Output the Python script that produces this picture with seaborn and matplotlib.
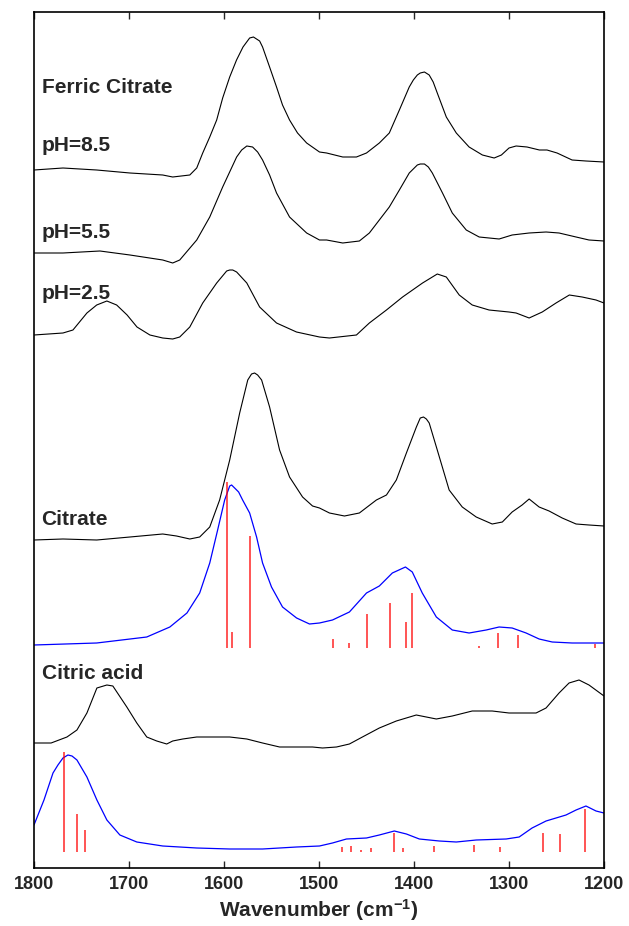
import matplotlib
matplotlib.use("Agg")
import matplotlib.pyplot as plt
import seaborn as sns
import pandas as pd

# ---- measured spectra (wavenumber in cm^-1, intensity in arbitrary units) ----
ph85_wn = [1800, 1769.5, 1734, 1699, 1664.5, 1654, 1636, 1628.7, 1622.4, 1615, 1607.7, 1601.4, 1594,
           1586.8, 1580, 1573, 1569, 1562.5, 1559.4, 1552, 1544.7, 1538.4, 1531, 1522.6, 1513,
           1499.5, 1492, 1475, 1460.6, 1450, 1436.5, 1426, 1415.4, 1405, 1400.7, 1396.5, 1393.4,
           1389, 1384, 1379.8, 1375.5, 1366, 1355.5, 1342, 1328, 1315.6, 1308, 1300, 1292.5, 1281,
           1268, 1260, 1249.4, 1233.6, 1219, 1200]
ph85_int = [0, 2, 0, -3, -5, -7, -5, 2, 17, 33, 50, 72, 93,
            110, 123, 132, 133, 129, 123, 103, 83, 65, 50, 37, 27,
            18, 17, 13, 13, 17, 27, 37, 60, 83, 90, 95, 97,
            98, 95, 88, 77, 53, 37, 23, 15, 12, 15, 22, 24, 23,
            20, 20, 17, 10, 9, 8]

ph55_wn = [1800, 1769.5, 1730.6, 1699, 1664.5, 1654, 1646.6, 1628.7, 1615, 1601.4, 1586.7, 1581.4,
           1576, 1569.9, 1564.6, 1559.4, 1552, 1544.7, 1531, 1513, 1499.5, 1492, 1475, 1457.5, 1447,
           1436.5, 1426, 1415.4, 1405, 1396.5, 1393.4, 1389, 1384.9, 1380.7, 1370, 1359.7, 1345,
           1331.4, 1310.4, 1296.7, 1278.8, 1261, 1247.3, 1229.4, 1215.8, 1200]
ph55_int = [0, 0, 2, -2, -7, -10, -7, 13, 36, 66, 96, 103,
            107, 106, 101, 93, 78, 60, 36, 20, 13, 13, 10, 12, 20,
            33, 46, 63, 80, 88, 89, 89, 86, 80, 60, 40, 23,
            16, 14, 18, 20, 21, 20, 16, 13, 12]

ph25_wn = [1800, 1769.5, 1759, 1744.3, 1734, 1723.3, 1713, 1702, 1691.6, 1678, 1664.5, 1654, 1646.6,
           1636, 1622.4, 1607.7, 1597.2, 1594, 1590.8, 1586.7, 1576, 1562.5, 1544.7, 1523.7, 1499.5,
           1489, 1460.6, 1447, 1429, 1412, 1391, 1375.5, 1366, 1352.4, 1338.7, 1321, 1300, 1292.5,
           1278.8, 1265, 1250.5, 1236.5, 1223, 1208.4, 1200]
ph25_int = [0, 2, 5, 22, 30, 34, 30, 20, 8, 0, -3, -4, -2,
            8, 32, 52, 64, 65, 65, 63, 52, 28, 12, 3, -2,
            -3, 0, 12, 25, 38, 52, 61, 58, 40, 30, 25, 23, 22,
            17, 23, 32, 40, 38, 35, 32]

citrate_wn = [1800, 1769.5, 1734, 1699, 1664.5, 1650, 1636, 1625.6, 1615, 1604.6, 1594, 1583.5, 1575,
              1571, 1567.8, 1564.6, 1560.4, 1552, 1541.5, 1531, 1517.3, 1506.8, 1499.5, 1489, 1473.2,
              1457.5, 1439.6, 1429, 1418.6, 1408, 1397.5, 1393.4, 1390, 1387, 1384, 1375.5, 1363,
              1349.2, 1334.5, 1317.7, 1307, 1296.7, 1286.2, 1278.8, 1268.3, 1257.8, 1244, 1229.4,
              1215.8, 1200]
citrate_int = [0, 1, 0, 3, 6, 4, 1, 3, 13, 40, 80, 127, 160,
               166, 167, 165, 160, 133, 90, 63, 43, 34, 32, 27, 24,
               27, 40, 45, 60, 87, 113, 122, 123, 121, 117, 90, 50,
               33, 23, 16, 18, 28, 35, 41, 33, 29, 22, 16,
               15, 14]

# ---- computed spectra and their vibrational lines ----
citrate_calc_wn = [1800, 1734, 1681.3, 1657, 1639, 1625.6, 1615, 1606.7, 1599.3, 1594, 1592, 1588.8,
                   1584.6, 1580.4, 1573, 1565.7, 1559.4, 1550, 1538.4, 1523.6, 1510, 1499.5, 1485.8,
                   1468, 1450, 1436.5, 1422.8, 1409, 1401.8, 1391.3, 1376.5, 1359.7, 1342, 1324,
                   1310.4, 1296.7, 1282, 1268.3, 1254.5, 1233.6, 1212.6, 1200]
citrate_calc_int = [0, 2, 8, 18, 32, 52, 82, 115, 145, 159, 160, 157,
                    153, 145, 132, 108, 82, 58, 38, 27, 21, 22, 25,
                    33, 52, 59, 72, 78, 73, 52, 28, 15, 12, 15,
                    18, 17, 12, 6, 3, 2, 2, 2]
citrate_line_wn = [1597.2, 1591.6, 1573, 1485.5, 1468, 1449.8, 1425.2, 1408, 1402.5, 1331.7,
                   1311.7, 1290.7, 1209]
citrate_line_int = [166, 16, 112, 8.7, 5, 34, 45, 26, 55, 2.4, 15.4, 12.7, 3.7]

citric_wn = [1800, 1782, 1765.3, 1754.8, 1744.3, 1733.8, 1723.3, 1717, 1702.3, 1691.8, 1681.3,
             1670.8, 1660.3, 1654, 1643.4, 1628.7, 1612, 1594, 1576, 1559.4, 1541.5, 1523.6,
             1506.8, 1496.3, 1481.6, 1468, 1454.3, 1436.5, 1418.6, 1397.6, 1376.5, 1359.7,
             1338.7, 1317.7, 1300, 1271.5, 1261, 1247.3, 1236.8, 1226.3, 1215.8, 1200]
citric_int = [0, 0, 6, 13, 30, 55, 58, 57, 36, 20, 6,
              2, -1, 2, 4, 6, 6, 6, 4, 0, -4, -4,
              -4, -5, -4, -1, 6, 15, 22, 28, 24, 27,
              32, 32, 30, 30, 35, 50, 60, 63, 58, 47]

citric_calc_wn = [1800, 1789.5, 1780, 1774.8, 1769.5, 1764.3, 1760, 1754.8, 1744.3, 1733.8, 1723.3,
                  1709.6, 1691.8, 1664.5, 1628.7, 1594, 1559.4, 1523.6, 1499.5, 1485.8, 1471.1, 1450,
                  1436.5, 1420.7, 1408, 1394.4, 1373.4, 1355.5, 1334.5, 1303, 1289.3, 1275.7,
                  1261, 1240, 1229.4, 1219, 1208.4, 1200]
citric_calc_int = [24, 49, 76, 84, 91, 94, 93, 89, 72, 49, 29,
                   14, 7, 3, 1, 0, 0, 2, 3, 6, 10, 11,
                   14, 18, 15, 10, 8, 7, 9, 10, 12, 21,
                   28, 34, 39, 43, 38, 36]
citric_line_wn = [1768.8, 1754.5, 1746.7, 1475.6, 1465.9, 1455.7, 1445.2, 1420.7, 1411.5,
                  1378.6, 1336.9, 1310, 1264.4, 1245.9, 1220.3]
citric_line_int = [100, 38.4, 22.4, 5, 6.4, 1.7, 4.4, 19.4, 4, 5.7, 6.7, 4.7, 19.4, 17.7, 42.7]

x_ticks = [1800, 1700, 1600, 1500, 1400, 1300, 1200]

# ---- styling ----
sns.set_style("ticks")
plt.rcParams["font.family"] = ["Liberation Sans", "DejaVu Sans"]
plt.rcParams["font.weight"] = "bold"
plt.rcParams["mathtext.fontset"] = "custom"
plt.rcParams["mathtext.rm"] = "Liberation Sans:bold"
plt.rcParams["mathtext.default"] = "rm"

fig = plt.figure(figsize=(6.29, 9.26), dpi=100)
ax = fig.add_axes([34 / 629, 58 / 926, 570 / 629, 856 / 926])

# vertical offsets of the stacked traces
traces = [
    (ph85_wn, ph85_int, 698, "black", 0.8),
    (ph55_wn, ph55_int, 615, "black", 0.8),
    (ph25_wn, ph25_int, 533, "black", 0.8),
    (citrate_wn, citrate_int, 328, "black", 0.8),
    (citrate_calc_wn, citrate_calc_int, 223, "#0000ff", 0.9),
    (citric_wn, citric_int, 125, "black", 0.8),
    (citric_calc_wn, citric_calc_int, 19, "#0000ff", 0.9),
]
for wn, inten, off, col, lw in traces:
    df = pd.DataFrame({"wn": wn, "y": [v + off for v in inten]})
    sns.lineplot(data=df, x="wn", y="y", color=col, lw=lw, ax=ax, sort=True,
                 estimator=None, legend=False)
for ln in ax.get_lines():
    ln.set_solid_joinstyle("round")

# computed line positions as sticks
for wn, inten, base in [(citrate_line_wn, citrate_line_int, 220),
                        (citric_line_wn, citric_line_int, 16)]:
    ax.vlines(wn, base, [base + v for v in inten], color="#ff0000", lw=1.1, alpha=0.85)

labels = [("Ferric Citrate", 775), ("pH=8.5", 717), ("pH=5.5", 630),
          ("pH=2.5", 569), ("Citrate", 343), ("Citric acid", 189)]
for txt, yb in labels:
    ax.text(1792, yb, txt, fontsize=15, fontweight="bold", va="baseline", ha="left")

ax.set_xlim(1800, 1200)
ax.set_ylim(0, 856)
ax.set_xticks(x_ticks)
ax.set_xticklabels([str(t) for t in x_ticks])
ax.set_yticks([])
ax.set_ylabel("")
ax.set_xlabel("Wavenumber (cm$^{-1}$)", fontsize=15, fontweight="bold", labelpad=3)
ax.tick_params(axis="x", direction="in", length=5, width=1, top=True, bottom=True,
               labelsize=13, pad=6)
for s in ax.spines.values():
    s.set_visible(True)
    s.set_linewidth(1.2)
    s.set_color("black")

fig.savefig("out.png", dpi=100, facecolor="white")
